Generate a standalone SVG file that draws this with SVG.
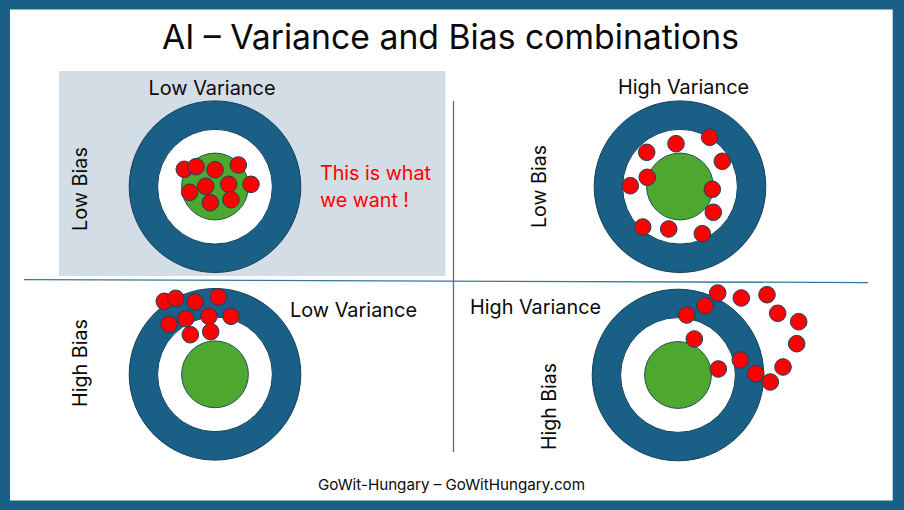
<svg xmlns="http://www.w3.org/2000/svg" width="904" height="510" viewBox="0 0 904 510">
<style>
text{font-family:Inter,"Liberation Sans",sans-serif;fill:#0a0a0a}
.lab{font-size:20px}
.red{fill:#ff0000}
.o{fill:#1a5f85;stroke:#143f58;stroke-width:1}
.w{fill:#fff;stroke:#143f58;stroke-width:1}
.g{fill:#4ea72e;stroke:#1f4d5f;stroke-width:1}
.d circle{r:8.3px;fill:#f00;stroke:#1c3f5c;stroke-width:1}
.c{stroke:#35789b;stroke-width:1.3;fill:none}
</style>
<rect width="904" height="510" fill="#1a5f85"/>
<rect x="10" y="9.5" width="882.7" height="491" fill="#fff"/>
<rect id="panel" x="59" y="71" width="386.5" height="205" fill="#d3dde6"/>
<g id="connectors">
<line class="c" x1="24" y1="279.6" x2="868" y2="282.6"/>
<line class="c" x1="453.5" y1="101" x2="453.5" y2="452"/>
</g>
<text id="title" x="162" y="49" font-size="34" textLength="577" lengthAdjust="spacingAndGlyphs">AI – Variance and Bias combinations</text>
<g id="low-variance-low-bias">
<circle class="o" cx="215" cy="186.7" r="85.8"/><circle class="w" cx="215" cy="186.7" r="57.4"/><circle class="g" cx="215" cy="186.5" r="33.4"/>
<g class="d"><circle cx="184.3" cy="169.3"/><circle cx="196" cy="166.7"/><circle cx="215" cy="169.7"/><circle cx="238.3" cy="165"/><circle cx="205.7" cy="186.3"/><circle cx="228.7" cy="184.3"/><circle cx="251" cy="184.3"/><circle cx="189.7" cy="192.3"/><circle cx="210.3" cy="202.7"/><circle cx="231" cy="199.7"/></g>
<text class="lab" x="148.5" y="95" textLength="127" lengthAdjust="spacingAndGlyphs">Low Variance</text>
<text class="lab" transform="translate(87 231) rotate(-90)" textLength="84" lengthAdjust="spacingAndGlyphs">Low Bias</text>
<text class="lab red" x="320" y="180" textLength="111" lengthAdjust="spacingAndGlyphs">This is what</text>
<text class="lab red" x="320" y="207" textLength="89" lengthAdjust="spacingAndGlyphs">we want !</text>
</g>
<g id="high-variance-low-bias">
<circle class="o" cx="680" cy="186.7" r="85.8"/><circle class="w" cx="680" cy="186.7" r="57.4"/><circle class="g" cx="680" cy="186.5" r="33.4"/>
<g class="d"><circle cx="646.7" cy="152.3"/><circle cx="676" cy="143.7"/><circle cx="709.7" cy="137.3"/><circle cx="722.3" cy="161.3"/><circle cx="647.3" cy="177.3"/><circle cx="630.3" cy="185.7"/><circle cx="712.3" cy="189.3"/><circle cx="713.3" cy="212.3"/><circle cx="642.7" cy="227"/><circle cx="668.7" cy="229"/><circle cx="702.3" cy="233.7"/></g>
<text class="lab" x="618" y="94" textLength="131" lengthAdjust="spacingAndGlyphs">High Variance</text>
<text class="lab" transform="translate(546 228) rotate(-90)" textLength="83" lengthAdjust="spacingAndGlyphs">Low Bias</text>
</g>
<g id="low-variance-high-bias">
<circle class="o" cx="215" cy="374.3" r="85.8"/><circle class="w" cx="215" cy="374.3" r="57.4"/><circle class="g" cx="215" cy="374.3" r="33.4"/>
<g class="d"><circle cx="164.3" cy="301.3"/><circle cx="175.7" cy="298.3"/><circle cx="195" cy="302"/><circle cx="218.3" cy="297"/><circle cx="169" cy="324.3"/><circle cx="185.7" cy="318.7"/><circle cx="209" cy="316.3"/><circle cx="231" cy="316.3"/><circle cx="190.3" cy="334.7"/><circle cx="210.7" cy="331.7"/></g>
<text class="lab" x="290" y="317" textLength="127" lengthAdjust="spacingAndGlyphs">Low Variance</text>
<text class="lab" transform="translate(87 407) rotate(-90)" textLength="88" lengthAdjust="spacingAndGlyphs">High Bias</text>
</g>
<g id="high-variance-high-bias">
<circle class="o" cx="678" cy="375" r="85.8"/><circle class="w" cx="678" cy="375" r="57.4"/><circle class="g" cx="678" cy="375" r="33.4"/>
<g class="d"><circle cx="717.7" cy="293"/><circle cx="741.3" cy="298"/><circle cx="767" cy="294.7"/><circle cx="705" cy="305.7"/><circle cx="686.7" cy="315"/><circle cx="777.7" cy="313.3"/><circle cx="798.7" cy="321.7"/><circle cx="796.7" cy="343.7"/><circle cx="694.3" cy="339"/><circle cx="740.3" cy="360"/><circle cx="783" cy="367"/><circle cx="718.3" cy="369"/><circle cx="755.7" cy="373.7"/><circle cx="770.3" cy="382"/></g>
<text class="lab" x="470" y="314" textLength="131" lengthAdjust="spacingAndGlyphs">High Variance</text>
<text class="lab" transform="translate(556 450) rotate(-90)" textLength="87" lengthAdjust="spacingAndGlyphs">High Bias</text>
</g>
<text id="footer" x="318" y="490" font-size="15" textLength="267" lengthAdjust="spacingAndGlyphs">GoWit-Hungary – GoWitHungary.com</text>
</svg>
